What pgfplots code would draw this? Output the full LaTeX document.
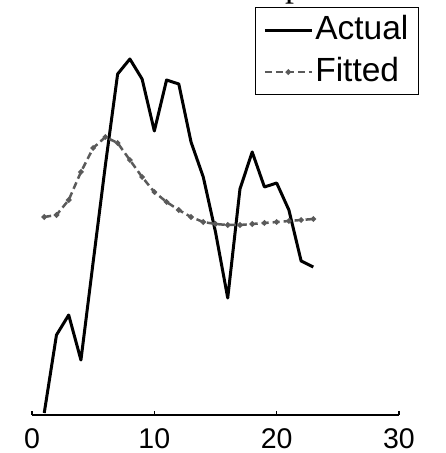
\documentclass[border=0pt]{standalone}
\usepackage{fontspec}
\setmainfont{Liberation Sans}
\newfontfamily\seriffont{Liberation Serif}
\usepackage{pgfplots}
\pgfplotsset{compat=1.18}
\definecolor{fitgray}{HTML}{5A5A5A}

\pgfplotstableread{
x y
1 2
2 80
3 100
4 55
5 153
6 250
7 341
8 356
9 336
10 284
11 335
12 331
13 273
14 238
15 183
16 117
17 226
18 263
19 228
20 232
21 205
22 154
23 148
}\actual

\pgfplotstableread{
x y
1 198
2 200
3 215
4 243
5 267
6 278
7 272
8 255
9 238
10 223
11 213
12 205
13 198
14 193
15 191
16 190
17 190
18 191
19 192
20 193
21 194
22 195
23 196
}\fitted

\begin{document}
\begin{tikzpicture}[x=1pt,y=1pt]
\useasboundingbox (0,0) rectangle (446,453);
% fragment of a title cut off by the top edge
\node[anchor=base west,inner sep=0pt,font=\fontsize{36}{36}\seriffont] at (285,456.3) {p};
\begin{axis}[
at={(32pt,38pt)},anchor=south west,
scale only axis,width=367pt,height=365pt,
xmin=0,xmax=30,ymin=0,ymax=365,enlargelimits=false,
axis x line=bottom,axis y line=none,
axis line style={-,line width=1.6pt},
xtick={0,10,20,30},ytick=\empty,
tick align=inside,major tick length=4pt,
tick style={line width=1.4pt,black},
/pgf/number format/assume math mode=true,
xticklabel style={font=\fontsize{28.5}{28.5}\selectfont,inner sep=0pt,yshift=-13pt},
clip=false,
legend cell align=left,
legend image code/.code={\draw[#1,mark repeat=2,mark phase=2] plot coordinates {(0pt,0pt)(23.5pt,0pt)(47pt,0pt)};},
legend style={at={(1.0545,1.118)},anchor=north east,draw=black,line width=1.2pt,
  font=\fontsize{33.5}{33.5}\selectfont,inner xsep=8pt,inner ysep=5pt,row sep=7pt,
  nodes={text height=25pt,text depth=6pt,inner sep=2pt}},
]
\addplot[black,line width=3pt,line join=round] table[x=x,y=y] {\actual};
\addlegendentry{Actual}
\addplot[fitgray,line width=2.5pt,dash pattern=on 7pt off 4pt,mark=*,mark size=1.3pt,
  mark options={solid,fill=fitgray,draw=fitgray}] table[x=x,y=y] {\fitted};
\addlegendentry{Fitted}
\end{axis}
\end{tikzpicture}
\end{document}
